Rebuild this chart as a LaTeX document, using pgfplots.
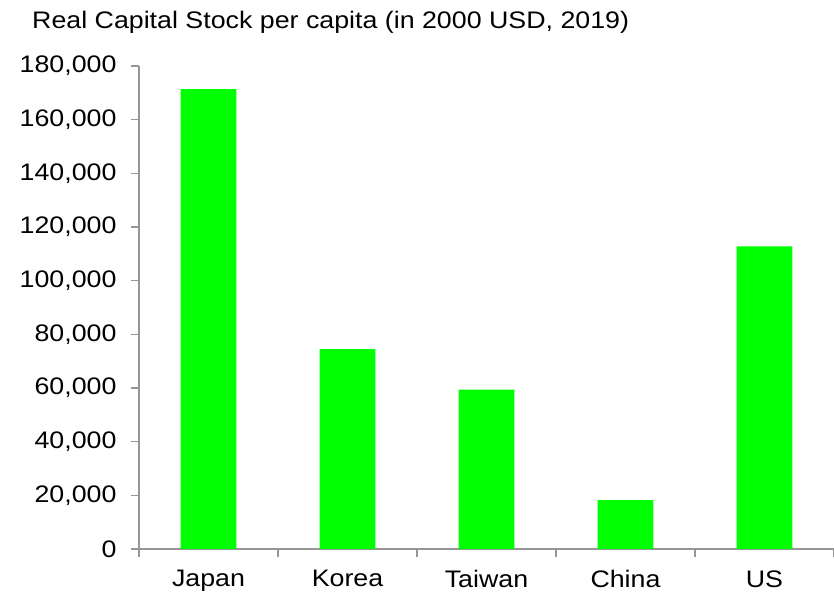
\documentclass[border=0pt]{standalone}
\usepackage{pgfplots}
\pgfplotsset{compat=1.18}
\usepackage{fontspec}
\setmainfont{Liberation Sans}[FakeStretch=1.12]

\definecolor{bargreen}{RGB}{0,255,0}
\definecolor{axisgray}{RGB}{150,150,150}

\begin{document}
\begin{tikzpicture}
  % page frame, same size as the reference
  \path[use as bounding box] (0bp,0bp) rectangle (834bp,594bp);

  \node[anchor=base west, inner sep=0pt, font=\fontsize{24}{28}\selectfont]
    at (32bp,565bp) {Real Capital Stock per capita (in 2000 USD, 2019)};

  \begin{axis}[
      at={(139bp,45bp)}, anchor=south west,
      scale only axis,
      width=695bp, height=483bp,
      xmin=-0.5, xmax=4.5,
      ymin=0, ymax=180000,
      axis lines*=left,
      axis line style={draw=axisgray, line width=1.2bp},
      xtick={0,1,2,3,4},
      xticklabels={Japan,Korea,Taiwan,China,US},
      minor xtick={-0.5,0.5,1.5,2.5,3.5,4.5},
      ytick={0,20000,...,180000},
      tick align=outside,
      major tick length=8bp,
      minor tick length=8bp,
      major x tick style={draw=none},
      minor x tick style={draw=axisgray, line width=1.2bp},
      major y tick style={draw=axisgray, line width=1.2bp},
      scaled y ticks=false,
      /pgf/number format/assume math mode=true,
      yticklabel style={xshift=-11bp, /pgf/number format/.cd, fixed, 1000 sep={,}},
      xticklabel style={yshift=-10bp},
      ticklabel style={font=\fontsize{24}{28}\selectfont, text=black},
    ]
    \addplot[ybar, bar width=0.4, fill=bargreen, draw=none]
      coordinates {(0,171400) (1,74500) (2,59400) (3,18200) (4,112800)};
  \end{axis}
\end{tikzpicture}
\end{document}
